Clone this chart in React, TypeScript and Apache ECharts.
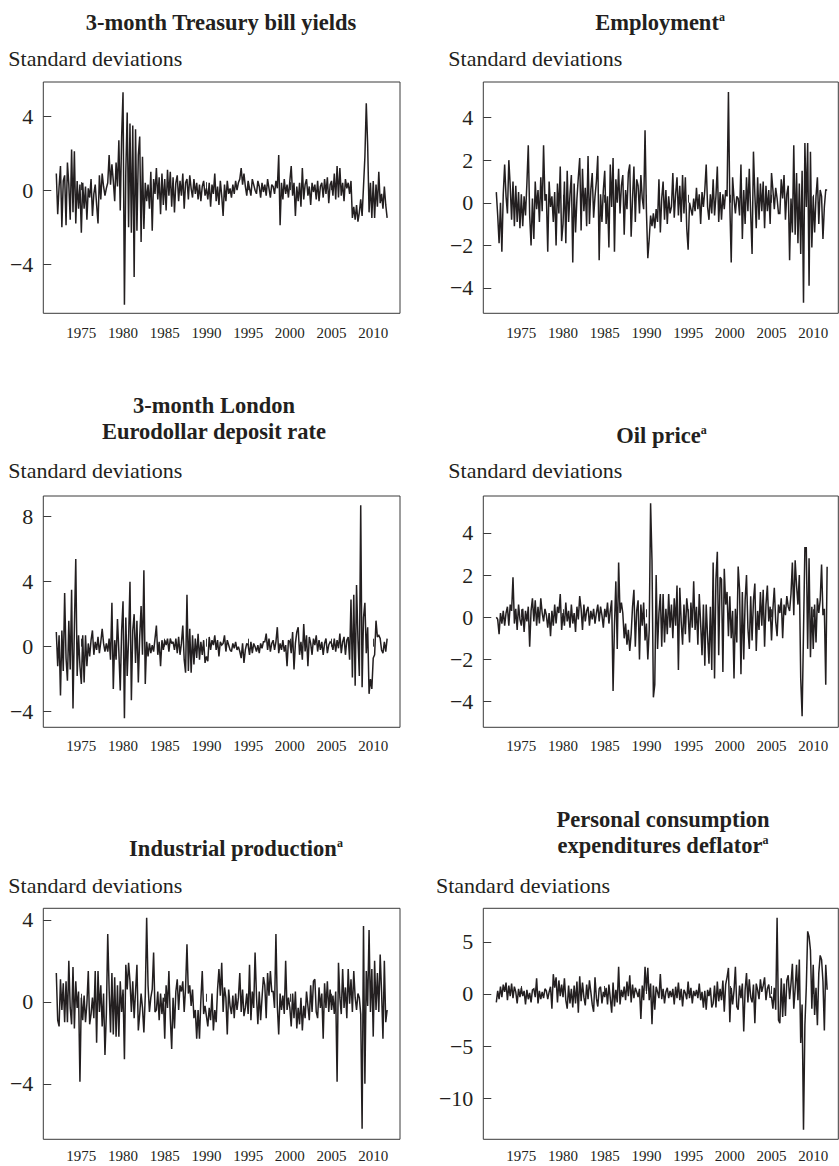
import React, { useEffect, useRef } from 'react';
import * as echarts from 'echarts';

// ---------- data (bimonthly readings, first point Jan 1972) ----------
const START_YEAR = 1972;
const STEP = 1 / 6;

const YEAR_TICKS = [1975, 1980, 1985, 1990, 1995, 2000, 2005, 2010];

const tbill = [
  0.9, -1.3, 0.2, 1.3, -2.0, 0.5,
  0.8, -1.9, 1.5, 0.3, -1.6, 2.2,
  -1.2, 2.1, -1.8, 0.5, -1.0, 0.3,
  -2.3, 0.4, -1.0, 0.2, -1.6, 0.1,
  -0.4, 0.6, -1.4, -0.2, 0.3, -0.8,
  -1.8, 0.8, -0.5, 0.9, 0.2, -0.3,
  0.1, 0.4, 1.9, 0.3, 1.4, 0.5,
  -0.6, 1.5, 0.2, 2.7, -1.1, 2.9,
  5.3, -6.2, 1.0, 4.2, -2.0, 3.6,
  -2.3, 3.5, -4.7, 3.3, -2.2, 1.9,
  2.9, -2.8, 1.8, -2.1, 0.4, -0.6,
  0.3, -1.0, 1.0, -2.2, 0.6, -0.2,
  1.2, -0.5, 0.7, -1.3, 0.9, -0.8,
  0.6, -1.1, 1.1, -0.3, 1.0, -0.9,
  0.7, -1.2, 0.4, 0.8, -0.6, 0.5,
  -0.3, 0.9, -1.0, 0.4, 0.6, -0.5,
  0.8, 0.1, -0.4, 0.6, -0.2, 0.4,
  -0.5, 0.3, -0.6, 0.2, 0.5, -0.3,
  0.1, -0.5, 0.4, -0.9, 0.3, -0.2,
  0.9, -0.6, 0.2, -0.8, 0.5, -0.3,
  -1.4, 0.3, -0.6, 0.5, -0.2, 0.1,
  -0.4, 0.3, -0.2, 0.5, 0.0, 0.4,
  0.6, 1.2, 0.3, 0.9, 0.2, -0.3,
  0.5, 0.1, -0.3, 0.6, 0.3, 0.0,
  -0.2, 0.5, 0.2, -0.4, 0.4, -0.1,
  0.3, -0.3, 0.6, 0.1, -0.4, 0.3,
  0.2, -0.2, 0.5, 0.1, 1.9, -1.9,
  0.4, -0.5, 0.6, -0.2, 0.3, -0.4,
  0.5, 1.3, -0.3, 0.4, -1.4, 0.2,
  -0.6, 0.4, -0.9, 1.2, -0.5, 0.3,
  0.6, -0.3, 0.2, -0.8, 0.4, -0.1,
  0.3, -0.5, 0.5, -0.6, 0.2, 0.4,
  -0.4, 0.6, -0.2, 0.7, -0.7, 0.3,
  0.5, -0.3, 0.9, -0.5, 1.3, -0.4,
  1.2, -0.3, 0.4, -0.6, 0.6, 0.1,
  0.4, -0.2, 0.5, -1.5, -0.9, -1.6,
  -0.8, -1.7, -1.2, -0.5, -1.4, 0.2,
  1.8, 4.7, 2.4, -1.2, 0.4, -1.5,
  0.5, -1.5, 0.3, -0.9, 1.0, -0.7,
  -0.2, -1.0, 0.2, -0.8, -1.5,
];

const employment = [
  0.5, -0.6, -1.9, 0.0, -2.3, 0.4,
  1.8, 0.3, -0.5, 2.0, 0.8, -0.8,
  1.0, -1.1, 0.8, -0.9, 0.5, -1.2,
  0.4, -1.1, 0.3, -0.6, 0.9, 2.7,
  -0.6, -2.0, 0.2, -1.7, 1.0, -0.3,
  0.6, -0.9, 1.2, -0.4, 2.7, 0.1,
  0.4, -2.3, 1.0, -0.2, 0.3, -0.9,
  0.5, -2.0, 0.9, -0.5, 1.7, -1.8,
  -1.0, 1.0, -1.9, 1.5, -0.9, 0.4,
  1.3, -2.8, 0.9, -1.4, 0.2, 1.2,
  2.1, -1.3, 1.6, -0.4, 0.7, -1.1,
  2.2, -1.0, 0.6, 1.4, -0.7, 0.3,
  1.0, 2.2, -2.7, 0.4, -0.9, 0.6,
  1.5, -1.0, 0.3, -2.1, 1.8, -0.2,
  2.1, -2.3, 1.1, 0.0, 1.6, -0.5,
  0.8, 1.3, -1.5, 0.6, -0.3, 1.4,
  1.8, -1.6, 0.2, 1.7, -0.9, 1.1,
  0.8, -0.5, 1.3, 0.2, -0.3, 3.4,
  -0.4, -2.6, -1.7, -0.6, -1.1, -0.5,
  -1.2, -0.3, -0.9, 1.1, -1.4, 0.2,
  1.0, -0.8, 0.6, -1.0, 0.3, -0.5,
  -0.2, 1.4, -0.7, 0.4, 1.2, -0.6,
  0.8, -0.9, 1.3, -0.5, 1.2, -1.2,
  -2.2, 0.0, -0.3, -0.6, 0.2, -0.4,
  0.7, -0.3, 0.4, -1.0, 0.5, -0.2,
  0.6, 1.8, -0.2, -0.8, 0.4, -0.5,
  1.1, -0.6, 0.3, 1.7, -0.9, 0.5,
  -0.8, 0.4, -0.3, 0.6, 0.3, 5.2,
  -0.1, -2.8, 1.2, 0.2, -0.5, 0.3,
  0.2, -0.6, 1.8, -1.7, 0.6, -1.0,
  1.2, -0.4, 1.6, -0.5, -2.4, 2.4,
  0.4, -1.2, 1.2, -0.8, 0.9, -0.4,
  1.0, -1.2, 0.8, -0.4, 0.6, -1.0,
  1.4, 0.6, -0.3, 0.7, 0.2, -0.5,
  -0.5, 1.1, 0.2, 1.3, -0.8, 0.4,
  0.8, -2.7, 0.2, -1.4, 2.7, -1.5,
  1.4, -1.9, 0.9, -2.4, 1.5, -4.7,
  2.8, -0.2, 2.8, -3.9, 2.4, -2.1,
  0.3, -1.4, 0.3, 1.2, -1.0, 0.6,
  0.3, -1.7, -0.2, 0.6, 0.6,
];

const eurodollar = [
  0.9, -1.2, 0.7, -3.0, 1.0, -1.5,
  3.3, -0.7, -2.1, 1.6, -1.4, 3.5,
  -3.8, 1.2, 5.4, -1.8, 0.7, -1.2,
  -2.3, 0.7, -2.2, 0.7, -1.2, 0.2,
  -0.6, 0.4, 1.0, -0.5, 0.3, -0.2,
  0.6, -0.4, 0.3, 1.1, 0.2, -0.3,
  0.2, -0.3, 0.5, -0.8, 2.7, -2.6,
  0.4, -0.8, 1.7, -0.3, -2.7, 1.0,
  2.8, -4.4, 1.8, -1.8, 0.5, 4.0,
  -3.3, 1.0, 2.0, -1.0, 1.6, -2.2,
  0.6, 2.5, -0.5, 4.7, -2.3, 0.3,
  -0.6, 0.2, -0.4, 0.1, -0.3, 0.5,
  1.3, -0.5, 0.3, -1.2, 0.4, -0.2,
  0.4, 0.1, 0.5, -0.3, 0.5, 0.2,
  0.3, -0.2, 0.5, -0.4, 0.6, -0.5,
  0.2, 1.3, -0.8, -1.6, 3.2, -1.5,
  1.1, -1.6, 0.7, -1.1, 0.5, -0.7,
  0.8, -0.8, 0.3, -0.5, 0.4, -1.0,
  -0.6, -0.9, 0.6, -0.2, 0.4, 0.1,
  0.7, -0.2, 0.4, -0.6, 0.3, 0.1,
  0.2, 0.7, -0.3, 0.4, 0.1, -0.2,
  -0.3, 0.2, -0.1, 0.3, -0.2, 0.0,
  -0.3, -0.7, 0.2, -1.0, -0.2, 0.2,
  0.1, -0.5, 0.3, -0.4, 0.2, 0.0,
  -0.3, 0.1, -0.4, 0.2, -0.1, 0.3,
  0.3, 0.8, -0.2, 0.5, -0.3, 0.2,
  0.4, -0.2, 0.3, 1.2, -0.4, 0.2,
  -0.2, 0.4, -0.3, 0.1, -1.2, 0.4,
  0.3, -0.4, 0.9, -1.4, 0.2, 0.9,
  1.2, -0.5, 0.3, -0.8, 1.4, -0.3,
  0.7, -1.2, 0.6, 0.2, -0.5, 0.5,
  0.1, 0.7, -0.3, 0.4, -0.2, 0.3,
  -0.5, 0.2, 0.5, -0.4, 0.1, 0.3,
  0.2, -0.2, 0.5, -0.3, 0.4, -0.1,
  0.8, -0.4, 0.3, 0.6, -0.5, 0.4,
  0.6, -0.8, 2.9, -1.9, 3.2, -2.4,
  3.8, 0.5, -1.8, 8.7, -2.5, 1.8,
  2.7, -0.4, 1.2, -2.9, -2.0, -2.6,
  -0.7, -0.5, 1.6, 0.6, 0.7, 0.5,
  -0.2, -0.4, 0.3, -0.3, 0.5,
];

const oilPrice = [
  0.0, -0.1, -0.8, 0.2, -0.3, 0.3,
  -0.4, 0.2, 0.5, -0.4, 0.6, 0.3,
  1.9, -0.3, 0.4, -0.6, 0.6, -0.1,
  -0.4, 0.4, -0.7, 0.3, -0.2, 0.5,
  -1.4, 0.3, 0.9, -0.2, 0.8, -0.4,
  0.5, -0.3, 0.9, 0.2, -0.2, 0.4,
  0.1, -0.5, 0.2, -0.9, 0.3, -0.4,
  0.6, -0.3, 0.5, 0.2, 1.1, -0.6,
  0.2, -0.4, 0.7, -0.2, 0.3, -0.5,
  0.6, -0.3, 0.2, -0.7, 0.5, -0.1,
  1.0, 0.4, -0.6, 0.6, -0.2, 0.3,
  0.5, -0.4, 0.3, -0.1, 0.4, -0.3,
  0.2, 0.6, -0.2, 0.5, 0.1, -0.5,
  0.4, 0.0, 0.7, -0.3, 0.3, 0.8,
  -3.5, -0.4, 1.7, -1.5, 2.6, 0.2,
  0.7, 0.2, -1.0, -0.3, -1.3, -0.6,
  -1.6, -0.8, 0.5, 1.3, -1.4, 0.3,
  0.8, -2.0, 0.6, -0.4, 0.7, -1.1,
  -0.3, -2.0, -0.6, 5.4, 2.7, -3.8,
  -3.2, 2.0, -1.5, 0.2, 1.1, -1.4,
  1.1, -1.2, 0.4, -0.8, 1.1, -0.5,
  0.6, -1.0, 0.9, -0.4, 1.5, -2.5,
  1.4, -0.2, -1.3, 0.6, -0.8, 0.9,
  0.2, -1.2, 0.7, -0.5, 1.7, -0.6,
  0.5, -1.3, 1.1, -0.3, -1.8, 0.6,
  -2.3, 0.6, -0.9, -2.2, 0.5, -2.5,
  2.6, -2.9, 1.8, 3.1, -1.8, 1.9,
  1.8, -2.6, 2.3, 0.6, 1.2, -0.9,
  1.0, -1.0, 0.3, -2.9, 0.4, -1.2,
  2.4, 1.3, -2.7, 1.2, -2.0, 0.8,
  2.0, -0.5, -1.5, 1.0, -1.1, 0.8,
  1.6, -1.6, 0.3, -0.6, 1.2, -0.4,
  1.3, -1.4, 0.6, 1.5, -0.2, 0.5,
  -1.1, 0.4, 1.4, -0.2, -0.9, 0.6,
  0.2, 0.9, -1.0, 0.6, 0.1, 1.0,
  0.5, 0.3, 1.1, 2.6, 0.1, 2.7,
  1.5, 0.6, 2.0, -2.9, -4.7, -0.7,
  3.3, 3.3, -1.5, 2.8, -1.9, 0.5,
  -1.5, 0.6, -1.2, 0.9, 0.2, 0.8,
  2.5, 0.1, 0.4, -3.2, 2.4,
];

const industrialProduction = [
  1.4, -0.9, -1.2, 1.1, -0.4, 0.9,
  -1.0, 1.0, -1.0, 2.0, -0.3, -1.1,
  1.7, -1.3, 1.0, -0.3, 0.5, -3.9,
  0.2, -0.9, 0.3, -1.0, -0.1, 1.5,
  -1.1, -0.6, 0.2, -0.8, 1.5, -2.0,
  1.5, -0.5, 0.8, -1.2, 0.4, -2.6,
  -0.6, 3.3, 0.6, -1.5, 1.4, -1.6,
  1.2, -1.7, 0.8, -1.7, 1.0, -0.5,
  0.6, -2.8, 1.8, 0.6, 1.9, 1.0,
  -0.5, 1.0, -0.8, 0.5, 1.8, -1.4,
  -0.6, 0.4, -0.3, -1.5, 0.3, 4.1,
  0.8, -0.5, 0.2, 0.6, 2.4, -0.5,
  -0.4, 0.5, -0.9, 0.4, -0.6, 0.2,
  -1.8, 0.8, -0.3, 1.5, -0.8, -2.3,
  0.2, -1.3, 0.5, 1.1, -0.4, 0.8,
  0.5, 1.0, -0.5, 0.7, 2.8, 0.4,
  0.8, -0.2, 0.6, -0.8, -0.4, -1.8,
  -0.4, -1.8, 0.1, 1.5, -0.6, -0.2,
  -0.7, -1.2, -0.3, -0.9, 0.4, -1.4,
  -0.4, -1.0, 0.6, 1.6, 0.3, 1.9,
  -0.5, 0.7, 0.2, -1.6, 0.6, -0.2,
  -0.6, 0.3, -0.8, 0.4, -0.4, 0.2,
  1.4, -0.5, 0.6, -0.7, -0.3, 0.4,
  -0.6, 1.8, -0.9, 0.5, -0.3, 2.4,
  0.3, -1.1, 0.5, -0.9, 0.2, 1.2,
  0.8, -0.8, 1.4, 0.3, 1.5, 0.5,
  0.5, -0.3, 3.3, -0.2, -1.6, 0.4,
  -0.4, 0.3, -0.6, 2.0, -0.4, 0.2,
  -0.3, -1.2, 0.4, -0.8, 0.5, -1.3,
  -0.3, -1.1, 0.2, -1.4, -0.2, -0.8,
  0.5, -0.2, -0.9, 0.8, -0.5, 1.0,
  1.1, -0.5, -0.8, 0.7, -0.3, 0.4,
  -1.8, 0.9, -0.3, 1.0, -0.5, 0.6,
  -0.4, 0.3, -0.6, 0.5, -3.9, 1.9,
  0.2, -0.6, 1.6, -0.3, 0.7, -0.8,
  1.6, -0.1, 1.1, -0.5, 1.5, 0.2,
  -0.4, 0.4, 0.2, -0.6, -6.2, 3.7,
  -4.0, 1.5, -0.2, 3.5, -0.5, 1.6,
  -1.7, 2.0, -0.4, 1.4, -0.5, 2.3,
  0.5, -1.8, 2.0, -1.0, -0.4,
];

const pceDeflator = [
  -0.8, 0.3, -0.5, 0.7, -0.3, 0.9,
  0.2, 1.1, -0.6, 0.8, -0.2, 1.0,
  -0.4, 0.7, 0.2, -0.9, 0.5, -0.3,
  0.6, -0.2, 0.3, -1.0, 0.4, -0.5,
  0.1, -0.8, 0.4, 0.5, -0.3, 1.5,
  -0.9, 0.3, -0.5, 0.2, -0.4, 0.5,
  0.3, -0.5, 0.2, 0.7, -1.4, 1.9,
  0.6, 1.6, -0.8, 1.3, -0.2, 0.9,
  -0.3, 1.5, -0.6, -1.4, 0.8, -0.9,
  0.5, -1.3, 0.8, -0.9, 1.2, -1.8,
  1.7, -0.7, 1.1, -0.3, -1.1, 0.9,
  -0.5, 1.3, 0.2, -1.0, -1.7, 1.6,
  -0.4, -1.2, 0.5, 0.7, -0.9, 0.2,
  -0.3, 0.6, -1.0, 0.9, -0.4, -1.8,
  1.1, -1.2, 0.4, -0.8, 2.6, -1.0,
  0.4, -0.3, 0.7, -0.6, 1.2, -0.2,
  1.8, -0.8, 0.9, -0.4, 0.6, 0.2,
  -0.3, 0.5, -2.4, 0.8, -0.6, 2.6,
  0.3, 2.5, -0.6, 1.0, -2.9, 0.8,
  -1.5, 0.7, 0.2, -0.4, 1.9, -0.5,
  0.5, -0.9, 0.2, 0.6, -0.4, 0.3,
  -0.3, 0.5, -1.0, 0.7, -0.4, 1.1,
  -0.6, 0.5, -1.2, 0.4, 0.1, -0.5,
  1.2, -0.4, 0.6, -0.9, 0.3, -0.2,
  0.4, -0.4, 1.0, -0.6, 0.2, -1.3,
  0.3, -1.5, 0.4, -0.2, 0.6, -1.3,
  -0.9, 0.8, -1.3, 1.2, -0.7, 0.5,
  -0.6, 1.3, -1.7, 0.9, 1.6, 2.5,
  -2.7, 0.6, -1.0, 0.3, 2.6, -1.2,
  -1.5, 0.8, -0.4, 1.0, -3.6, 0.4,
  2.0, -0.8, 1.4, -0.3, -0.8, 0.9,
  -2.8, 1.0, 0.4, -0.5, 1.4, 0.2,
  0.8, 1.6, -0.6, 0.5, 0.9, -0.3,
  -0.3, -1.4, 0.6, -1.5, 7.3, -2.5,
  -2.8, 1.5, -2.2, 1.0, -2.1, 1.3,
  1.8, -0.5, 1.0, 2.9, -1.4, 0.5,
  2.8, -0.6, 3.3, -4.7, -1.0, -13.0,
  -3.0, 0.6, 6.0, 5.5, 4.2, -1.4,
  2.8, -2.0, 0.6, -3.0, 2.0, 3.7,
  3.3, 1.2, -3.5, 2.8, 0.4,
];

const TICKS_TBILL = [-4, 0, 4];
const TICKS_EMPLOYMENT = [-4, -2, 0, 2, 4];
const TICKS_EURODOLLAR = [-4, 0, 4, 8];
const TICKS_OIL = [-4, -2, 0, 2, 4];
const TICKS_IP = [-4, 0, 4];
const TICKS_PCE = [-10, -5, 0, 5];

// ---------- layout ----------
const SERIF = '"Liberation Serif", "Times New Roman", "DejaVu Serif", serif';
const TEXT = '#231f20';
const LINE = '#231f20';
const FRAME = '#3a3a3a';
const X_MIN = 1970.44;
const PX_PER_YEAR = 8.34;

type Panel = {
  data: number[];
  yTicks: number[];
  yMin: number;
  yMax: number;
  left: number;
  top: number;
  width: number;
  height: number;
  xLabelMargin: number;
  titleX: number;
  titleLines: { text: string; y: number; sup?: boolean }[];
  unitX: number;
  unitY: number;
};

const PANELS: Panel[] = [
  {
    data: tbill, yTicks: TICKS_TBILL, yMin: -6.66, yMax: 5.85,
    left: 43.3, top: 82, width: 356.7, height: 231.3, xLabelMargin: 12,
    titleX: 221, titleLines: [{ text: '3-month Treasury bill yields', y: 22 }],
    unitX: 8.3, unitY: 58,
  },
  {
    data: employment, yTicks: TICKS_EMPLOYMENT, yMin: -5.19, yMax: 5.67,
    left: 483.3, top: 82, width: 355, height: 231.3, xLabelMargin: 12,
    titleX: 660, titleLines: [{ text: 'Employment', y: 22, sup: true }],
    unitX: 448.3, unitY: 58,
  },
  {
    data: eurodollar, yTicks: TICKS_EURODOLLAR, yMin: -4.96, yMax: 9.27,
    left: 43.3, top: 496, width: 356.7, height: 231.3, xLabelMargin: 11,
    titleX: 214, titleLines: [
      { text: '3-month London', y: 405 },
      { text: 'Eurodollar deposit rate', y: 431.5 },
    ],
    unitX: 8.3, unitY: 470,
  },
  {
    data: oilPrice, yTicks: TICKS_OIL, yMin: -5.22, yMax: 5.75,
    left: 483.3, top: 496, width: 355, height: 231.3, xLabelMargin: 11,
    titleX: 661.5, titleLines: [{ text: 'Oil price', y: 435.5, sup: true }],
    unitX: 448.3, unitY: 470,
  },
  {
    data: industrialProduction, yTicks: TICKS_IP, yMin: -6.71, yMax: 4.56,
    left: 43.3, top: 908.3, width: 356.7, height: 231, xLabelMargin: 9,
    titleX: 236, titleLines: [{ text: 'Industrial production', y: 848, sup: true }],
    unitX: 8.3, unitY: 885,
  },
  {
    data: pceDeflator, yTicks: TICKS_PCE, yMin: -13.92, yMax: 8.21,
    left: 483.3, top: 908.3, width: 355, height: 231, xLabelMargin: 9,
    titleX: 663, titleLines: [
      { text: 'Personal consumption', y: 819 },
      { text: 'expenditures deflator', y: 845.5, sup: true },
    ],
    unitX: 436, unitY: 885,
  },
];

const fmtY = (v: number) => (v < 0 ? '\u2212' + Math.abs(v) : String(v));
const fmtX = (v: number) => String(Math.round(v));

function buildOption() {
  const grid = PANELS.map((p) => ({
    left: p.left, top: p.top, width: p.width, height: p.height,
    show: true, borderColor: FRAME, borderWidth: 1, backgroundColor: 'transparent',
    containLabel: false, outerBoundsMode: 'none',
  }));

  const xAxis = PANELS.map((p, i) => ({
    type: 'value', gridIndex: i, min: X_MIN, max: X_MIN + p.width / PX_PER_YEAR,
    axisLine: { show: false }, splitLine: { show: false },
    axisTick: { show: true, inside: true, length: 8, customValues: YEAR_TICKS, lineStyle: { color: FRAME, width: 1 } },
    axisLabel: { show: true, customValues: YEAR_TICKS, formatter: fmtX, fontFamily: SERIF, fontSize: 15, color: TEXT, margin: p.xLabelMargin },
  }));

  const yAxis = PANELS.map((p, i) => ({
    type: 'value', gridIndex: i, min: p.yMin, max: p.yMax,
    axisLine: { show: false }, splitLine: { show: false },
    axisTick: { show: true, inside: true, length: 8, customValues: p.yTicks, lineStyle: { color: FRAME, width: 1 } },
    axisLabel: { show: true, customValues: p.yTicks, formatter: fmtY, fontFamily: SERIF, fontSize: 22, color: TEXT, margin: 10 },
  }));

  const series = PANELS.map((p, i) => ({
    type: 'line', xAxisIndex: i, yAxisIndex: i,
    data: p.data.map((v, j) => [START_YEAR + j * STEP, v]),
    showSymbol: false, symbol: 'none', silent: true,
    lineStyle: { width: 1.5, color: LINE, join: 'miter', miterLimit: 2 },
  }));

  const graphic: any[] = [];
  PANELS.forEach((p) => {
    p.titleLines.forEach((ln) => {
      graphic.push({
        type: 'text', x: p.titleX, y: ln.y, silent: true,
        style: {
          text: ln.sup ? `{t|${ln.text}}{s|a}` : `{t|${ln.text}}`,
          rich: {
            t: { fontFamily: SERIF, fontSize: 22.5, fontWeight: 'bold', fill: TEXT, color: TEXT },
            s: { fontFamily: SERIF, fontSize: 12, fontWeight: 'bold', fill: TEXT, color: TEXT, verticalAlign: 'top' },
          },
          fill: TEXT,
          align: 'center', verticalAlign: 'middle',
          textAlign: 'center', textVerticalAlign: 'middle',
        },
      });
    });
    graphic.push({
      type: 'text', x: p.unitX, y: p.unitY, silent: true,
      style: {
        text: 'Standard deviations', fill: TEXT,
        font: `22px ${SERIF}`,
        align: 'left', verticalAlign: 'middle',
        textAlign: 'left', textVerticalAlign: 'middle',
      },
    });
  });

  return { animation: false, backgroundColor: '#ffffff', grid, xAxis, yAxis, series, graphic };
}

export default function App() {
  const ref = useRef<HTMLDivElement>(null);
  useEffect(() => {
    if (!ref.current) return;
    const chart = echarts.init(ref.current, null, { renderer: 'svg' });
    chart.setOption(buildOption() as any);
    return () => chart.dispose();
  }, []);
  return (
    <div
      ref={ref}
      style={{ position: 'fixed', left: 0, top: 0, width: 839, height: 1166, background: '#fff' }}
    />
  );
}
